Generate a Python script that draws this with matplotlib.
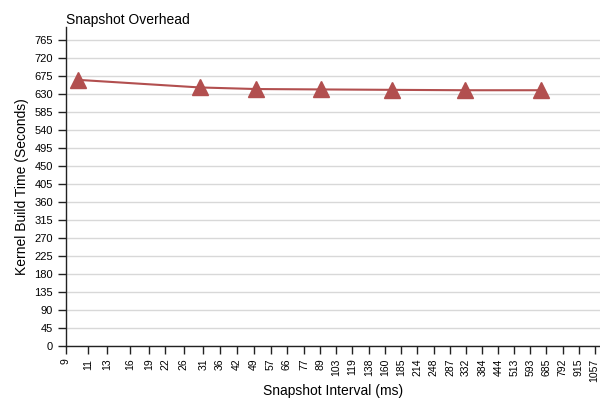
import numpy as np
import matplotlib
matplotlib.use("Agg")
import matplotlib.pyplot as plt
from matplotlib.ticker import FixedLocator, FixedFormatter, NullLocator

plt.rcParams["font.family"] = ["Liberation Sans", "DejaVu Sans"]

# snapshot interval (ms) and kernel build time (s)
intervals = [10, 30, 50, 90, 170, 330, 650]
build_time = [665, 646, 642, 641, 640, 639, 639]

x_ticks = [9, 11, 13, 16, 19, 22, 26, 31, 36, 42, 49, 57, 66, 77, 89, 103,
           119, 138, 160, 185, 214, 248, 287, 332, 384, 444, 513, 593, 685,
           792, 915, 1057]
y_ticks = list(range(0, 766, 45))

color = "#b24f4f"

fig = plt.figure(figsize=(6.0, 4.03), dpi=100)
ax = fig.add_axes([66 / 600, 57 / 403, 534 / 600, 319 / 403])

ax.plot(intervals, build_time, color=color, lw=1.5, marker="^",
        markersize=12, markerfacecolor=color, markeredgecolor=color,
        zorder=3, clip_on=False)

ax.set_xscale("log")
ax.set_xlim(9, 1110)
ax.set_ylim(0, 797)

ax.xaxis.set_major_locator(FixedLocator(x_ticks))
ax.xaxis.set_major_formatter(FixedFormatter([str(t) for t in x_ticks]))
ax.xaxis.set_minor_locator(NullLocator())
ax.set_yticks(y_ticks)

ax.tick_params(axis="x", labelsize=7.5, rotation=90, length=6, width=1,
               color="#222222", pad=3)
ax.tick_params(axis="y", labelsize=8, length=6, width=1, color="#222222")

ax.grid(axis="y", color="#d8d8d8", lw=1)
ax.set_axisbelow(True)

for side in ["top", "right"]:
    ax.spines[side].set_visible(False)
for side in ["left", "bottom"]:
    ax.spines[side].set_color("#222222")
    ax.spines[side].set_linewidth(1)

ax.set_xlabel("Snapshot Interval (ms)", fontsize=10, labelpad=2)
ax.set_ylabel("Kernel Build Time (Seconds)", fontsize=10, labelpad=4)
ax.set_title("Snapshot Overhead", fontsize=10, loc="left", pad=2)

fig.savefig("out.png", dpi=100)
